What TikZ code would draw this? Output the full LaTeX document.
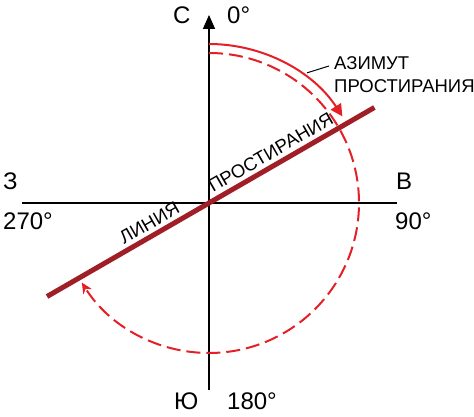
\documentclass[tikz,border=0pt]{standalone}
\usepackage{fontspec}
\setmainfont{Liberation Sans}
\usetikzlibrary{arrows.meta}
\definecolor{linered}{RGB}{160,30,38}
\definecolor{arcred}{RGB}{228,32,38}
\begin{document}
\begin{tikzpicture}[x=1pt,y=1pt,
  axis/.style={line width=1.6pt,black},
  strikeline/.style={line width=5pt,linered},
  arcline/.style={line width=2pt,arcred},
  axlabel/.style={inner sep=0pt,anchor=base west,font=\fontsize{24}{28}\selectfont},
  txtlabel/.style={inner sep=0pt,anchor=base west,font=\fontsize{18.5}{22}\selectfont},
]
\useasboundingbox (0,0) rectangle (474,417);
\coordinate (O) at (209,214);
\coordinate (N) at (209,402);
\coordinate (S) at (209,27);
\coordinate (W) at (22,214);
\coordinate (E) at (397,214);
\coordinate (L1) at ([shift={(210:187)}]O);
\coordinate (L2) at ([shift={(30:191)}]O);
\coordinate (A1) at ([shift={(90:159)}]O);
\coordinate (A2) at ([shift={(90:150)}]O);
\coordinate (lead) at ([shift={(53:163)}]O);

\draw[axis] (W) -- (E);
\draw[axis,-{Triangle[length=14pt,width=12pt]}] (S) -- (N);

\draw[arcline,-{Triangle[length=12pt,width=12pt]}] (A1) arc[start angle=90,end angle=33,radius=159];
\draw[arcline,dash pattern=on 14pt off 6pt,-{Stealth[length=11pt,width=10pt]}] (A2) arc[start angle=90,end angle=-148,radius=150];

\draw[strikeline] (L1) -- (L2);

\node[axlabel] (nC) at (173,393) {С};
\node[axlabel] (n0) at (227,393) {0°};
\node[axlabel] (nW) at (3,227) {З};
\node[axlabel] (n270) at (3,187) {270°};
\node[axlabel] (nE) at (396,227) {В};
\node[axlabel] (n90) at (395,187) {90°};
\node[axlabel] (nS) at (174,7) {Ю};
\node[axlabel] (n180) at (227,7) {180°};

\node[txtlabel] (az) at (334,347) {АЗИМУТ};
\node[txtlabel] (pr) at (334,324) {ПРОСТИРАНИЯ};
\node[txtlabel,rotate=30] (lp) at (213,224) {ПРОСТИРАНИЯ};
\node[txtlabel,rotate=30] (ll) at (124,172) {ЛИНИЯ};

\draw[line width=1pt] (lead) -- ([xshift=-5pt,yshift=4pt]az.base west);
\end{tikzpicture}
\end{document}
